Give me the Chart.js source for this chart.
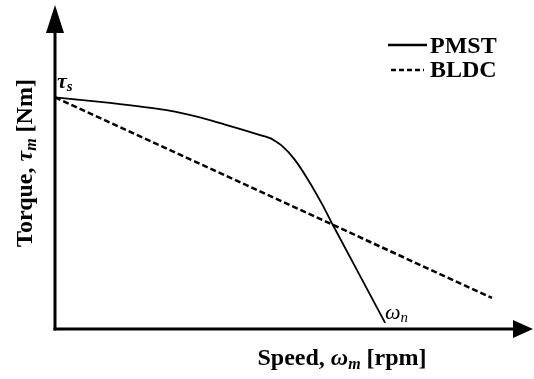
<!DOCTYPE html>
<html>
<head>
<meta charset="utf-8">
<script src="https://cdn.jsdelivr.net/npm/chart.js@4/dist/chart.umd.min.js"></script>
<style>
  html, body { margin: 0; padding: 0; background: #fff; }
  #wrap { width: 534px; height: 379px; }
</style>
</head>
<body>
<div id="wrap"><canvas id="c" width="534" height="379"></canvas></div>
<script>
// Normalised speed (0-100) and torque (0-100) values of the two characteristics
const pmstSpeed  = [0, 11.6, 23.2, 32.6, 41.7, 45.3, 47.8, 50.5, 53.3, 56.2, 58.5, 69.5];
const pmstTorque = [71.5, 69.8, 67.6, 64.5, 60.5, 58.9, 56.5, 52.2, 46.0, 38.6, 32.1, 1.9];
const bldcSpeed  = [0, 92.0];
const bldcTorque = [71.5, 9.6];
const seriesNames = ['PMST', 'BLDC'];

const SERIF = '"Liberation Serif", "Times New Roman", serif';

function toPoints(xs, ys) { return xs.map((x, i) => ({ x: x, y: ys[i] })); }

// Draws "main" followed by a smaller subscript, returns total width
function drawSub(ctx, x, y, main, mainFont, sub, subFont, subDy) {
  ctx.font = mainFont;
  ctx.fillText(main, x, y);
  const w1 = ctx.measureText(main).width;
  ctx.font = subFont;
  ctx.fillText(sub, x + w1, y + subDy);
  return w1 + ctx.measureText(sub).width;
}
function measureSub(ctx, main, mainFont, sub, subFont) {
  ctx.font = mainFont; const a = ctx.measureText(main).width;
  ctx.font = subFont; const b = ctx.measureText(sub).width;
  return a + b;
}

const axesPlugin = {
  id: 'arrowAxes',
  afterDatasetsDraw(chart) {
    const ctx = chart.ctx;
    const a = chart.chartArea;
    ctx.save();
    ctx.fillStyle = '#000';
    ctx.strokeStyle = '#000';
    ctx.lineWidth = 3;
    // vertical axis
    ctx.beginPath();
    ctx.moveTo(a.left, a.bottom + 1.5);
    ctx.lineTo(a.left, 30);
    ctx.stroke();
    // horizontal axis
    ctx.beginPath();
    ctx.moveTo(a.left - 1.5, a.bottom);
    ctx.lineTo(515, a.bottom);
    ctx.stroke();
    // arrow heads
    ctx.beginPath();
    ctx.moveTo(a.left, 5);
    ctx.lineTo(a.left - 9, 33);
    ctx.lineTo(a.left + 9, 33);
    ctx.closePath();
    ctx.fill();
    ctx.beginPath();
    ctx.moveTo(533, a.bottom);
    ctx.lineTo(513, a.bottom - 9);
    ctx.lineTo(513, a.bottom + 9);
    ctx.closePath();
    ctx.fill();

    ctx.textBaseline = 'alphabetic';
    ctx.textAlign = 'left';
    const bold = 'bold 24px ' + SERIF;
    const boldIt = 'italic bold 24px ' + SERIF;
    const subIt = 'italic bold 16px ' + SERIF;

    // x axis title
    {
      const parts1 = 'Speed, ';
      ctx.font = bold; const w1 = ctx.measureText(parts1).width;
      const w2 = measureSub(ctx, 'ω', boldIt, 'm', subIt);
      ctx.font = bold; const w3 = ctx.measureText(' [rpm]').width;
      let x = 342 - (w1 + w2 + w3) / 2;
      const y = 365;
      ctx.font = bold; ctx.fillText(parts1, x, y); x += w1;
      x += drawSub(ctx, x, y, 'ω', boldIt, 'm', subIt, 4);
      ctx.font = bold; ctx.fillText(' [rpm]', x, y);
    }
    // y axis title (rotated)
    {
      ctx.save();
      ctx.translate(32, 163);
      ctx.rotate(-Math.PI / 2);
      const parts1 = 'Torque, ';
      ctx.font = bold; const w1 = ctx.measureText(parts1).width;
      const w2 = measureSub(ctx, 'τ', boldIt, 'm', subIt);
      ctx.font = bold; const w3 = ctx.measureText(' [Nm]').width;
      let x = -(w1 + w2 + w3) / 2;
      ctx.font = bold; ctx.fillText(parts1, x, 0); x += w1;
      x += drawSub(ctx, x, 0, 'τ', boldIt, 'm', subIt, 4);
      ctx.font = bold; ctx.fillText(' [Nm]', x, 0);
      ctx.restore();
    }
    // point annotations
    drawSub(ctx, 57, 88, 'τ', 'italic bold 22px ' + SERIF, 's', 'italic bold 15px ' + SERIF, 3);
    drawSub(ctx, 385, 319, 'ω', 'italic 22px ' + SERIF, 'n', 'italic 15px ' + SERIF, 3);

    // legend
    ctx.lineWidth = 2.5;
    ctx.setLineDash([]);
    ctx.beginPath(); ctx.moveTo(388, 45); ctx.lineTo(427, 45); ctx.stroke();
    ctx.setLineDash([5, 3]);
    ctx.beginPath(); ctx.moveTo(391, 70); ctx.lineTo(424, 70); ctx.stroke();
    ctx.setLineDash([]);
    ctx.font = bold;
    ctx.fillText(seriesNames[0], 430, 53);
    ctx.fillText(seriesNames[1], 430, 77);
    ctx.restore();
  }
};

new Chart(document.getElementById('c'), {
  type: 'line',
  data: {
    datasets: [
      {
        label: seriesNames[0],
        data: toPoints(pmstSpeed, pmstTorque),
        borderColor: '#000',
        borderWidth: 1.8,
        pointRadius: 0,
        tension: 0.18,
        borderJoinStyle: 'round',
        fill: false,
        clip: false
      },
      {
        label: seriesNames[1],
        data: toPoints(bldcSpeed, bldcTorque),
        borderColor: '#000',
        borderWidth: 2.5,
        borderDash: [6, 3],
        pointRadius: 0,
        tension: 0,
        fill: false,
        clip: false
      }
    ]
  },
  options: {
    responsive: false,
    animation: false,
    devicePixelRatio: 1,
    layout: { padding: { left: 55, right: 4, top: 5, bottom: 50 } },
    plugins: { legend: { display: false }, tooltip: { enabled: false } },
    scales: {
      x: { type: 'linear', min: 0, max: 100, display: false },
      y: { type: 'linear', min: 0, max: 100, display: false }
    }
  },
  plugins: [axesPlugin]
});
</script>
</body>
</html>
